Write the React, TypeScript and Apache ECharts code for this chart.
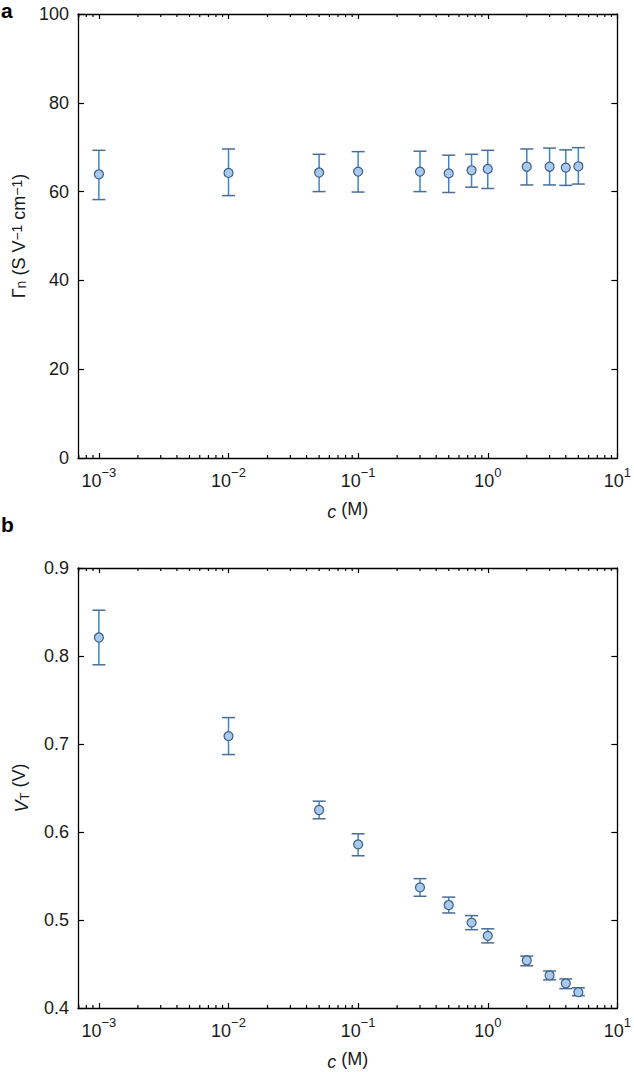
import React, { useEffect, useRef } from "react";
import * as echarts from "echarts";

const concentration = [0.001, 0.01, 0.05, 0.1, 0.3, 0.5, 0.75, 1, 2, 3, 4, 5];
const gammaMean = [63.9, 64.2, 64.3, 64.5, 64.5, 64.1, 64.8, 65.1, 65.6, 65.6, 65.4, 65.7];
const gammaLow = [58.2, 59.1, 60.0, 59.9, 60.0, 59.8, 61.0, 60.7, 61.5, 61.5, 61.4, 61.7];
const gammaHigh = [69.3, 69.6, 68.4, 69.0, 69.1, 68.2, 68.4, 69.3, 69.6, 69.8, 69.4, 69.9];
const vtMean = [0.821, 0.709, 0.625, 0.586, 0.537, 0.517, 0.497, 0.482, 0.454, 0.437, 0.428, 0.418];
const vtLow = [0.79, 0.688, 0.615, 0.573, 0.527, 0.508, 0.489, 0.474, 0.448, 0.432, 0.422, 0.414];
const vtHigh = [0.852, 0.73, 0.635, 0.598, 0.547, 0.526, 0.505, 0.49, 0.459, 0.442, 0.433, 0.423];

const xMin = 6.9e-4;
const xMax = 10;
const minorMultipliers = [2, 3, 4, 5, 6, 7, 8, 9];
const decades = [-4, -3, -2, -1, 0];

const FONT = "'Liberation Sans', Arial, Helvetica, sans-serif";
const TXT = "#1a1a1a";
const FS = 18;
const FS_SMALL = 13;

export default function App() {
  const ref = useRef<HTMLDivElement>(null);
  useEffect(() => {
    if (!ref.current) return;
    const chart = echarts.init(ref.current, null, { renderer: "svg" });

    const minorTicks: number[] = [];
    decades.forEach((d) => {
      minorMultipliers.forEach((m) => {
        const v = m * Math.pow(10, d);
        if (v > xMin * 1.001 && v < xMax) minorTicks.push(v);
      });
    });

    const supLabel = (val: number) => {
      const e = Math.log10(val);
      const r = Math.round(e);
      if (Math.abs(e - r) > 1e-6) return "";
      return `{b|10}{s|${r < 0 ? "\u2212" + -r : r}}`;
    };
    const labelRich = {
      b: { fontSize: FS, fontFamily: FONT, color: TXT, lineHeight: 24, verticalAlign: "bottom" },
      s: { fontSize: FS_SMALL, fontFamily: FONT, color: TXT, lineHeight: 16, verticalAlign: "top" },
    };
    const makeNameRich = (fs: number, fss: number) => ({
      b: { fontSize: fs, fontFamily: FONT, color: TXT, lineHeight: 24, verticalAlign: "bottom" },
      i: { fontSize: fs, fontFamily: FONT, color: TXT, lineHeight: 24, fontStyle: "italic", verticalAlign: "bottom" },
      sub: { fontSize: fss, fontFamily: FONT, color: TXT, lineHeight: 14, verticalAlign: "bottom" },
      sup: { fontSize: fss, fontFamily: FONT, color: TXT, lineHeight: 16, verticalAlign: "top" },
    });
    const nameRich = makeNameRich(FS, FS_SMALL);
    const gammaNameRich = makeNameRich(19, 14);

    const axisLine = { show: true, onZero: false, lineStyle: { color: "#000", width: 1.3 } };

    const xAxisFor = (gi: number, pos: "bottom" | "top") => ({
      type: "log",
      logBase: 10,
      gridIndex: gi,
      position: pos,
      min: xMin,
      max: xMax,
      axisLine,
      axisTick: { show: true, inside: true, length: 5, lineStyle: { color: "#000", width: 1.2 } },
      axisLabel:
        pos === "bottom"
          ? { show: true, formatter: supLabel, rich: labelRich, margin: 8, showMinLabel: false }
          : { show: false },
      splitLine: { show: false },
      ...(pos === "bottom"
        ? {
            name: "{i|c} (M)",
            nameLocation: "middle",
            nameGap: 39,
            nameTextStyle: { rich: nameRich, fontSize: FS, fontFamily: FONT, color: TXT },
          }
        : {}),
    });

    const yAxisFor = (gi: number, pos: "left" | "right", min: number, max: number, interval: number, name: string, fmt: (v: number) => string, rich: any) => ({
      type: "value",
      gridIndex: gi,
      position: pos,
      min,
      max,
      interval,
      axisLine,
      axisTick: { show: true, inside: true, length: 6, lineStyle: { color: "#000", width: 1.2 } },
      axisLabel:
        pos === "left"
          ? { show: true, formatter: fmt, fontSize: FS, fontFamily: FONT, color: TXT, margin: 9 }
          : { show: false },
      splitLine: { show: false },
      ...(pos === "left"
        ? {
            name,
            nameLocation: "middle",
            nameGap: 47,
            nameRotate: 90,
            nameTextStyle: { rich, fontSize: FS, fontFamily: FONT, color: TXT },
          }
        : {}),
    });

    const errorBars = (xi: number, yi: number, low: number[], high: number[]) => ({
      type: "custom",
      xAxisIndex: xi,
      yAxisIndex: yi,
      data: concentration.map((c, i) => [c, low[i], high[i]]),
      encode: { x: 0, y: [1, 2] },
      z: 2,
      renderItem: (params: any, api: any) => {
        const x = api.value(0);
        const pLo = api.coord([x, api.value(1)]);
        const pHi = api.coord([x, api.value(2)]);
        const hw = 6.5;
        return {
          type: "group",
          children: [
            { type: "line", shape: { x1: pLo[0], y1: pLo[1], x2: pHi[0], y2: pHi[1] }, style: { stroke: "#3a86c8", lineWidth: 1.5 } },
            { type: "line", shape: { x1: pLo[0] - hw, y1: pLo[1], x2: pLo[0] + hw, y2: pLo[1] }, style: { stroke: "#4a6c95", lineWidth: 1.5 } },
            { type: "line", shape: { x1: pHi[0] - hw, y1: pHi[1], x2: pHi[0] + hw, y2: pHi[1] }, style: { stroke: "#4a6c95", lineWidth: 1.5 } },
          ],
        };
      },
    });

    const minorTickSeries = (xi: number, yi: number, yMin: number, yMax: number) => ({
      type: "custom",
      xAxisIndex: xi,
      yAxisIndex: yi,
      data: minorTicks.map((v) => [v, yMin]),
      encode: { x: 0, y: 1 },
      silent: true,
      clip: false,
      z: 1,
      renderItem: (params: any, api: any) => {
        const v = api.value(0);
        const pb = api.coord([v, yMin]);
        const pt = api.coord([v, yMax]);
        return {
          type: "group",
          children: [
            { type: "line", shape: { x1: pb[0], y1: pb[1], x2: pb[0], y2: pb[1] - 3 }, style: { stroke: "#000", lineWidth: 1.2 } },
            { type: "line", shape: { x1: pt[0], y1: pt[1], x2: pt[0], y2: pt[1] + 3 }, style: { stroke: "#000", lineWidth: 1.2 } },
          ],
        };
      },
    });

    const points = (xi: number, yi: number, vals: number[]) => ({
      type: "scatter",
      xAxisIndex: xi,
      yAxisIndex: yi,
      data: concentration.map((c, i) => [c, vals[i]]),
      symbol: "circle",
      symbolSize: 9,
      z: 3,
      itemStyle: { color: "#a8caee", borderColor: "#3e5f88", borderWidth: 1.2, opacity: 1 },
    });

    chart.setOption({
      animation: false,
      backgroundColor: "#fff",
      textStyle: { fontFamily: FONT },
      grid: [
        { left: 78, top: 14, width: 545.5, height: 444 },
        { left: 78, top: 568, width: 545.5, height: 444 },
      ],
      xAxis: [xAxisFor(0, "bottom"), xAxisFor(0, "top"), xAxisFor(1, "bottom"), xAxisFor(1, "top")],
      yAxis: [
        yAxisFor(0, "left", 0, 100, 20, "\u0393{sub|n} (S V{sup|\u22121} cm{sup|\u22121})", (v) => String(v), gammaNameRich),
        yAxisFor(0, "right", 0, 100, 20, "", (v) => String(v), nameRich),
        yAxisFor(1, "left", 0.4, 0.9, 0.1, "{i|V}{sub|T} (V)", (v) => v.toFixed(1), nameRich),
        yAxisFor(1, "right", 0.4, 0.9, 0.1, "", (v) => v.toFixed(1), nameRich),
      ],
      graphic: [
        { type: "text", x: 1, y: 0, style: { text: "a", font: `bold 21px ${FONT}`, fill: "#000", textVerticalAlign: "top" } },
        { type: "text", x: 1, y: 514, style: { text: "b", font: `bold 21px ${FONT}`, fill: "#000", textVerticalAlign: "top" } },
      ],
      series: [
        minorTickSeries(0, 0, 0, 100),
        minorTickSeries(2, 2, 0.4, 0.9),
        errorBars(0, 0, gammaLow, gammaHigh),
        errorBars(2, 2, vtLow, vtHigh),
        points(0, 0, gammaMean),
        points(2, 2, vtMean),
      ],
    });
    return () => chart.dispose();
  }, []);
  return <div ref={ref} style={{ position: "absolute", left: 0, top: 0, width: 634, height: 1072 }} />;
}
